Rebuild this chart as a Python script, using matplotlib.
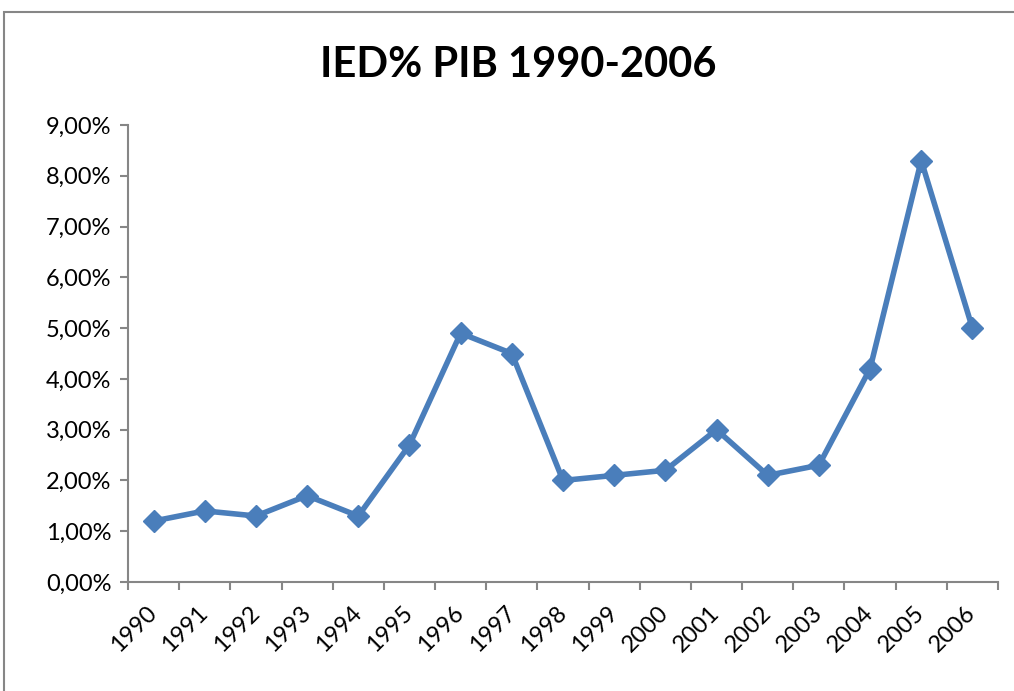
import matplotlib
matplotlib.use("Agg")
import matplotlib.pyplot as plt
from matplotlib.patches import Rectangle
from matplotlib.ticker import FuncFormatter, MultipleLocator

years = ["1990", "1991", "1992", "1993", "1994", "1995", "1996", "1997", "1998",
         "1999", "2000", "2001", "2002", "2003", "2004", "2005", "2006"]
ied_pib = [1.2, 1.4, 1.3, 1.7, 1.3, 2.7, 4.9, 4.5, 2.0, 2.1, 2.2, 3.0, 2.1, 2.3, 4.2, 8.3, 5.0]
title = "IED% PIB 1990-2006"

plt.rcParams['font.family'] = ['Lato', 'DejaVu Sans']

fig = plt.figure(figsize=(10.14, 6.91), dpi=100)
ax = fig.add_axes([128/1014, 1-582/691, (998-128)/1014, (582-125)/691])

x = list(range(len(years)))
ax.plot(x, ied_pib, color="#4A7EBB", linewidth=4, marker="D", markersize=11.5,
        markerfacecolor="#4A7EBB", markeredgecolor="#4A7EBB", solid_joinstyle="round")

ax.set_xlim(-0.5, len(years)-0.5)
ax.set_ylim(0, 9)
ax.yaxis.set_major_locator(MultipleLocator(1))
ax.yaxis.set_major_formatter(FuncFormatter(lambda v, p: f"{v:.2f}".replace(".", ",") + "%"))

ax.set_xticks(x)
ax.set_xticklabels(years, rotation=45, ha="right", va="center", rotation_mode="anchor")
ax.set_xticks([i - 0.5 for i in range(len(years)+1)], minor=True)
ax.tick_params(axis="x", which="major", length=0, pad=20, labelsize=17)
ax.tick_params(axis="x", which="minor", length=6, width=1.5, color="#868686", direction="out")
ax.tick_params(axis="y", which="major", length=6, width=1.5, color="#868686", labelsize=17, pad=6)

for s in ["top", "right"]:
    ax.spines[s].set_visible(False)
for s in ["left", "bottom"]:
    ax.spines[s].set_color("#868686")
    ax.spines[s].set_linewidth(1.5)

fig.text(518/1014, 1-65/691, title, ha="center", va="center", fontsize=30, fontweight="bold")

fig.add_artist(Rectangle((4/1014, -0.1), 1.1, 1-12/691+0.1, transform=fig.transFigure,
                         fill=False, edgecolor="#868686", linewidth=1.5))

fig.savefig("out.png", dpi=100)
